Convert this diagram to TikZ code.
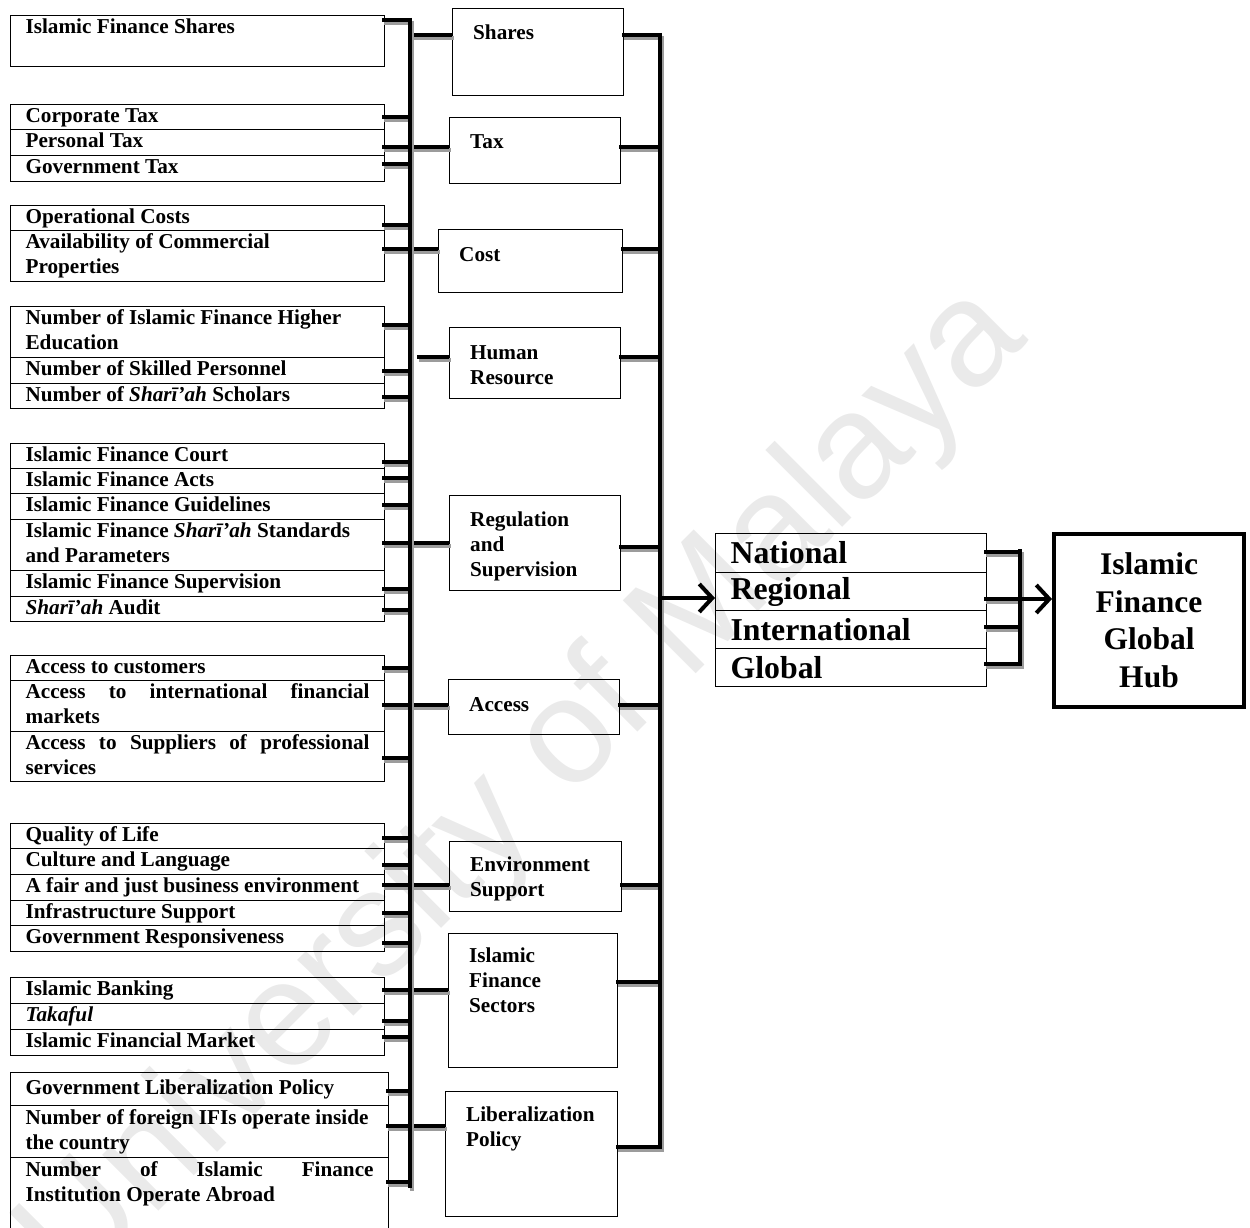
\documentclass[tikz,border=0pt]{standalone}
\usepackage{fontspec}
\setmainfont{Liberation Serif}
\newfontfamily\marksans{Liberation Sans}
\usetikzlibrary{positioning,calc,arrows.meta}
\hyphenpenalty=10000
\definecolor{barshadow}{HTML}{9C9C9C}
\definecolor{markgrey}{HTML}{EAEAEA}
\tikzset{
  entry/.style={draw,line width=1.2pt,anchor=north west,minimum width=374pt,inner xsep=15pt,inner ysep=0pt,
                text width=344pt,align=justify,font=\fontsize{21.2}{25}\selectfont\bfseries,
                execute at begin node=\strut,execute at end node=\strut},
  entryw/.style={entry,minimum width=378pt,text width=348pt},
  midbox/.style={draw,line width=1.2pt,anchor=north west,inner sep=0pt},
  midtext/.style={inner sep=0pt,align=left,font=\fontsize{21.2}{25}\selectfont\bfseries},
  tier/.style={draw,line width=1.2pt,anchor=north west,minimum width=271pt,minimum height=38pt,inner xsep=15pt,
               inner ysep=0pt,text width=241pt,align=left,font=\fontsize{31.8}{36}\selectfont\bfseries},
  hub/.style={draw,line width=4pt,anchor=north west,minimum width=190pt,minimum height=173pt,align=center,
              font=\fontsize{31.5}{37.5}\selectfont\bfseries},
  % thick connector with its grey drop shadow
  link/.style={line width=4pt,preaction={draw=barshadow,line width=4pt,transform canvas={shift={(1.5pt,-3pt)}}}},
  feed/.style={line width=4pt,-{Straight Barb[length=13pt,width=28pt,line width=4pt]}},
  watermark/.style={text=markgrey,font=\marksans\fontsize{150}{150}\selectfont,rotate=45,inner sep=0pt},
}

\begin{document}
\begin{tikzpicture}[x=1pt,y=-1pt]
  \clip (0,0) rectangle (1250,1228);
  \node[watermark] (wm) at (525,790) {University of Malaya};

  % factors, grouped by dimension
  \node[entry,minimum height=51pt] (ifs) at (10,15) {Islamic Finance Shares\\\strut};

  \node[entry,minimum height=25pt] (ctax) at (10,104) {Corporate Tax};
  \node[entry,minimum height=26pt] (ptax) at (10,129) {Personal Tax};
  \node[entry,minimum height=26pt] (gtax) at (10,155) {Government Tax};

  \node[entry,minimum height=25pt] (opc) at (10,205) {Operational Costs};
  \node[entry,minimum height=51pt] (acp) at (10,230) {Availability of Commercial\\Properties};

  \node[entry,minimum height=51pt] (ihe) at (10,306) {Number of Islamic Finance Higher\\Education};
  \node[entry,minimum height=26pt] (skp) at (10,357) {Number of Skilled Personnel};
  \node[entry,minimum height=25pt] (shs) at (10,383) {Number of \textit{Sharī’ah} Scholars};

  \node[entry,minimum height=25pt] (ifc) at (10,443) {Islamic Finance Court};
  \node[entry,minimum height=25pt] (ifa) at (10,468) {Islamic Finance Acts};
  \node[entry,minimum height=26pt] (ifg) at (10,493) {Islamic Finance Guidelines};
  \node[entry,minimum height=51pt] (iss) at (10,519) {Islamic Finance \textit{Sharī’ah} Standards\\and Parameters};
  \node[entry,minimum height=26pt] (isv) at (10,570) {Islamic Finance Supervision};
  \node[entry,minimum height=25pt] (sau) at (10,596) {\textit{Sharī’ah} Audit};

  \node[entry,minimum height=25pt] (acu) at (10,655) {Access to customers};
  \node[entry,minimum height=51pt] (aim) at (10,680) {Access to international financial\linebreak markets};
  \node[entry,minimum height=50pt] (asp) at (10,731) {Access to Suppliers of professional\linebreak services};

  \node[entry,minimum height=25pt] (qol) at (10,823) {Quality of Life};
  \node[entry,minimum height=26pt] (cul) at (10,848) {Culture and Language};
  \node[entry,minimum height=26pt] (fair) at (10,874) {A fair and just business environment};
  \node[entry,minimum height=25pt] (inf) at (10,900) {Infrastructure Support};
  \node[entry,minimum height=26pt] (grs) at (10,925) {Government Responsiveness};

  \node[entry,minimum height=26pt] (ibk) at (10,977) {Islamic Banking};
  \node[entry,minimum height=26pt] (tkf) at (10,1003) {\textit{Takaful}};
  \node[entry,minimum height=26pt] (ifm) at (10,1029) {Islamic Financial Market};

  \node[entryw,minimum height=33pt] (glp) at (10,1072) {Government Liberalization Policy};
  \node[entryw,minimum height=52pt] (nfi) at (10,1105) {Number of foreign IFIs operate inside\\the country};
  \node[entryw,minimum height=78pt] (nia) at (10,1157) {Number of Islamic Finance\linebreak Institution Operate Abroad\\\strut};

  % dimensions
  \node[midbox,minimum width=171pt,minimum height=87pt] (shares) at (452,8) {};
  \node[midbox,minimum width=171pt,minimum height=66pt] (tax) at (449,117) {};
  \node[midbox,minimum width=184pt,minimum height=63pt] (cost) at (438,229) {};
  \node[midbox,minimum width=171pt,minimum height=71pt] (hr) at (449,327) {};
  \node[midbox,minimum width=171pt,minimum height=95pt] (reg) at (449,495) {};
  \node[midbox,minimum width=171pt,minimum height=55pt] (acc) at (448,679) {};
  \node[midbox,minimum width=172pt,minimum height=70pt] (env) at (449,841) {};
  \node[midbox,minimum width=169pt,minimum height=134pt] (sec) at (448,933) {};
  \node[midbox,minimum width=172pt,minimum height=125pt] (lib) at (445,1091) {};
  \node[midtext,below right=17pt and 21pt of shares.north west] (sharesT) {Shares};
  \node[midtext,below right=17pt and 21pt of tax.north west] (taxT) {Tax};
  \node[midtext,below right=18pt and 21pt of cost.north west] (costT) {Cost};
  \node[midtext,below right=18pt and 21pt of hr.north west] (hrT) {Human\\Resource};
  \node[midtext,below right=17pt and 21pt of reg.north west] (regT) {Regulation\\and\\Supervision};
  \node[midtext,below right=18pt and 21pt of acc.north west] (accT) {Access};
  \node[midtext,below right=16pt and 21pt of env.north west] (envT) {Environment\\Support};
  \node[midtext,below right=15pt and 21pt of sec.north west] (secT) {Islamic\\Finance\\Sectors};
  \node[midtext,below right=16pt and 21pt of lib.north west] (libT) {Liberalization\\Policy};

  % levels and the hub
  \node[tier,minimum height=39pt] (natl) at (715,533) {National};
  \node[tier] (regl) at (715,572) {Regional};
  \node[tier] (intl) at (715,610) {International};
  \node[tier] (glob) at (715,648) {Global};
  \node[hub] (hubn) at (1052,532) {Islamic\\Finance\\Global\\Hub};

  \coordinate (busL) at (410,18);    \coordinate (busLend) at (410,1188);
  \coordinate (busR) at (660,33);    \coordinate (busRend) at (660,1149);
  \coordinate (busS) at (1020,549);  \coordinate (busSend) at (1020,666);

  % factor -> left bus
  \foreach \n/\y in {ifs/20,ctax/117,ptax/147,gtax/164,opc/225,acp/249,ihe/325,skp/371,shs/397,
                     ifc/462,ifa/478,ifg/505,iss/543,isv/589,sau/610,acu/668,aim/705,asp/758,
                     qol/838,cul/865,fair/885,inf/913,grs/943,ibk/990,tkf/1021,ifm/1037,
                     glp/1091,nfi/1126,nia/1182}
    \draw[link] ($(\n.east |- 0,\y)+(-3,0)$) -- (busL |- 0,\y);
  % left bus -> dimension
  \foreach \n/\y in {shares/35,tax/147,cost/249,reg/543,acc/705,env/885,sec/990,lib/1126}
    \draw[link] (busL |- 0,\y) -- (\n.west |- 0,\y);
  \draw[link] ($(busL |- 0,357)+(7,0)$) -- (hr.west |- 0,357);
  % dimension -> right bus
  \foreach \n/\y in {shares/35,tax/147,cost/249,hr/357,reg/547,acc/705,env/885,sec/982,lib/1147}
    \draw[link] ($(\n.east |- 0,\y)+(-2,0)$) -- (busR |- 0,\y);
  % level -> level bus
  \foreach \n/\y in {natl/552,regl/599,intl/627,glob/664}
    \draw[link] ($(\n.east |- 0,\y)+(-3,0)$) -- (busS |- 0,\y);

  \draw[link] (busL) -- (busLend);
  \draw[link] (busR) -- (busRend);
  \draw[link] (busS) -- (busSend);
  \draw[feed] (busR |- 0,598) -- (natl.west |- 0,598);
  \draw[feed] (busS |- 0,599) -- (hubn.west |- 0,599);
\end{tikzpicture}
\end{document}
